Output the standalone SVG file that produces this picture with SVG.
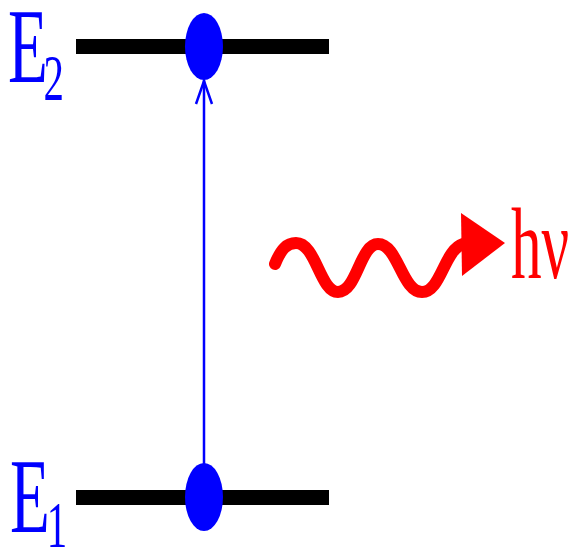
<svg xmlns="http://www.w3.org/2000/svg" width="571" height="551" viewBox="0 0 571 551">
<style>
.lvl{fill:#000}
.el{fill:#0000ff}
.lab{font-family:"Liberation Serif","Times New Roman",serif;fill:#0000ff}
.ph{font-family:"Liberation Serif","Times New Roman",serif;fill:#ff0000}
</style>
<rect width="571" height="551" fill="#fff"/>
<g id="E2-level">
<rect class="lvl" x="76" y="39" width="253" height="15"/>
<text class="lab" font-size="105" transform="translate(8,82) scale(0.62,1)">E<tspan font-size="66" dx="-7" dy="18">2</tspan></text>
</g>
<g id="E1-level">
<rect class="lvl" x="76" y="490" width="253" height="15"/>
<text class="lab" font-size="105" transform="translate(10,532) scale(0.62,1)">E<tspan font-size="66" dx="-5" dy="15">1</tspan></text>
</g>
<g id="connectors">
<line x1="204" y1="80" x2="204" y2="465" stroke="#0000ff" stroke-width="2.5"/>
<polyline points="196,104 204,81 212,104" fill="none" stroke="#0000ff" stroke-width="2.5" stroke-linejoin="miter"/>
</g>
<g id="electron-top">
<ellipse class="el" cx="204" cy="46.5" rx="19" ry="33.5"/>
</g>
<g id="electron-bottom">
<ellipse class="el" cx="204" cy="497" rx="19" ry="34"/>
</g>
<g id="photon">
<path d="M275,264 C281,249 287,243 296,243 C316,243 320,292 338,292 C357,292 360,244 378,244 C398,244 402,292 422,292 C441,292 444,250 463,244" fill="none" stroke="#ff0000" stroke-width="12" stroke-linecap="round"/>
<polygon points="461,213 505,243 462,276" fill="#ff0000"/>
<text class="ph" font-size="102" transform="translate(511,278) scale(0.6,1)">hν</text>
</g>
</svg>
